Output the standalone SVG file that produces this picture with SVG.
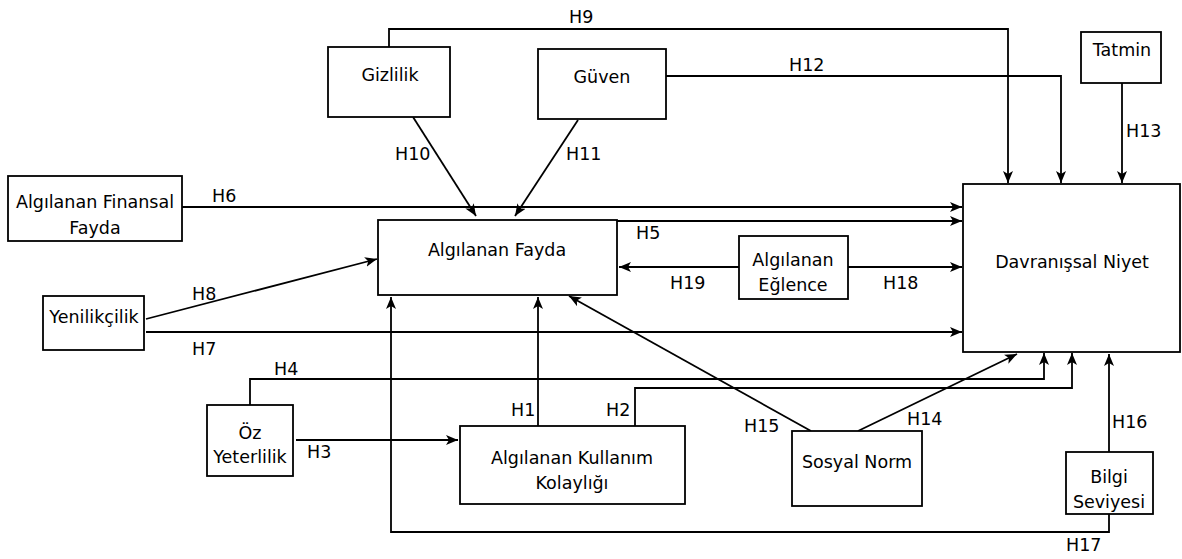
<svg xmlns="http://www.w3.org/2000/svg" width="1182" height="559" viewBox="0 0 1182 559">
<style>
.box{fill:#fff;stroke:#000;stroke-width:1.8}
.ln{fill:none;stroke:#000;stroke-width:1.8}
.arr{marker-end:url(#ah)}
text{font-family:"DejaVu Sans","Liberation Sans",sans-serif;font-size:17.5px;fill:#000}
.c{text-anchor:middle}
</style>
<defs>
<marker id="ah" viewBox="0 0 12 10" refX="12" refY="5" markerWidth="12" markerHeight="10" markerUnits="userSpaceOnUse" orient="auto">
<path d="M0,0 L12,5 L0,10 L3,5 z" fill="#000"/>
</marker>
</defs>
<rect width="1182" height="559" fill="#fff"/>
<g id="connectors">
<path class="ln arr" d="M389,47 V29 H1008 V183"/>
<path class="ln arr" d="M666,76 H1061 V183"/>
<path class="ln arr" d="M1122,83 V183"/>
<path class="ln arr" d="M413,117 L476,216"/>
<path class="ln arr" d="M578,120 L515,216"/>
<path class="ln arr" d="M182,207 H962"/>
<path class="ln arr" d="M617,221 H962"/>
<path class="ln arr" d="M146,319 L377,259"/>
<path class="ln arr" d="M146,332 H962"/>
<path class="ln arr" d="M739,267 H619"/>
<path class="ln arr" d="M848,267 H962"/>
<path class="ln arr" d="M250,405 V379 H1044 V353"/>
<path class="ln arr" d="M296,440 H458"/>
<path class="ln arr" d="M538,426 V297"/>
<path class="ln arr" d="M635,426 V388 H1072 V353"/>
<path class="ln arr" d="M811,431 L569,296"/>
<path class="ln arr" d="M858,431 L1017,354"/>
<path class="ln arr" d="M1109,452 V354"/>
<path class="ln arr" d="M1109,514 V532 H391 V297"/>
<text x="569" y="23">H9</text>
<text x="395" y="160">H10</text>
<text x="566" y="160">H11</text>
<text x="789" y="71">H12</text>
<text x="1126" y="137">H13</text>
<text x="212" y="202">H6</text>
<text x="192" y="300">H8</text>
<text x="192" y="355">H7</text>
<text x="274" y="375">H4</text>
<text x="636" y="239">H5</text>
<text x="670" y="289">H19</text>
<text x="883" y="289">H18</text>
<text x="511" y="416">H1</text>
<text x="606" y="416">H2</text>
<text x="307" y="458">H3</text>
<text x="744" y="432">H15</text>
<text x="907" y="425">H14</text>
<text x="1112" y="428">H16</text>
<text x="1066" y="551">H17</text>
</g>
<g id="gizlilik"><rect class="box" x="328" y="47" width="122" height="70"/><text class="c" x="390" y="81">Gizlilik</text></g>
<g id="guven"><rect class="box" x="538" y="49" width="128" height="70"/><text class="c" x="602" y="83">Güven</text></g>
<g id="tatmin"><rect class="box" x="1081" y="32" width="80" height="51"/><text class="c" x="1122" y="56">Tatmin</text></g>
<g id="finansal"><rect class="box" x="8" y="176" width="174" height="65"/><text class="c" x="95" y="208">Algılanan Finansal</text><text class="c" x="95" y="234">Fayda</text></g>
<g id="fayda"><rect class="box" x="378" y="220" width="239" height="75"/><text class="c" x="497" y="256">Algılanan Fayda</text></g>
<g id="yenilikcilik"><rect class="box" x="43" y="296" width="101" height="54"/><text class="c" x="94" y="323">Yenilikçilik</text></g>
<g id="eglence"><rect class="box" x="739" y="236" width="109" height="63"/><text class="c" x="793" y="266">Algılanan</text><text class="c" x="793" y="291">Eğlence</text></g>
<g id="niyet"><rect class="box" x="963" y="184" width="217" height="168"/><text class="c" x="1072" y="268">Davranışsal Niyet</text></g>
<g id="ozyeterlilik"><rect class="box" x="207" y="405" width="86" height="71"/><text class="c" x="250" y="439">Öz</text><text class="c" x="250" y="463">Yeterlilik</text></g>
<g id="kolaylik"><rect class="box" x="460" y="426" width="225" height="78"/><text class="c" x="572" y="464">Algılanan Kullanım</text><text class="c" x="572" y="489">Kolaylığı</text></g>
<g id="sosyalnorm"><rect class="box" x="792" y="431" width="130" height="75"/><text class="c" x="857" y="468">Sosyal Norm</text></g>
<g id="bilgi"><rect class="box" x="1066" y="452" width="87" height="62"/><text class="c" x="1109" y="483">Bilgi</text><text class="c" x="1109" y="508">Seviyesi</text></g>
</svg>
